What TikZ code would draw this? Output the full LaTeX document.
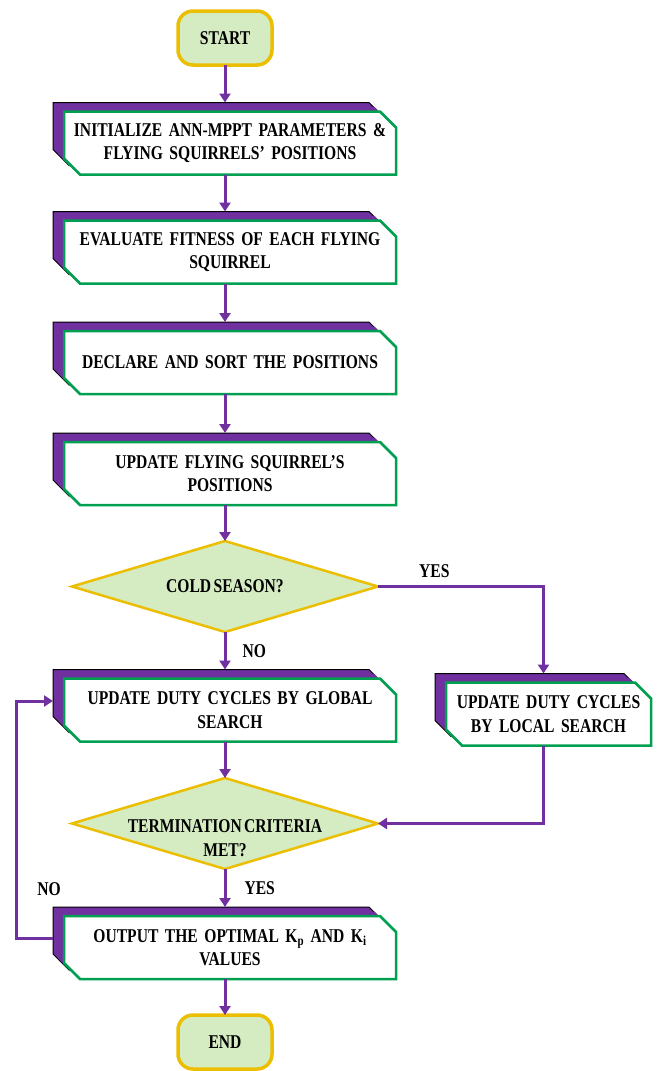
\documentclass[tikz,border=0pt]{standalone}
\usepackage{fontspec}
\usepackage{xcolor}
\usepackage{tikz}
\usetikzlibrary{shapes.geometric, shapes.misc, arrows.meta, positioning, shadows}

\newfontfamily\flowfont[FakeStretch=0.8, WordSpace=0.6]{Liberation Serif}

\definecolor{flowpurple}{RGB}{112,48,160}
\definecolor{flowgreen}{RGB}{0,160,80}
\definecolor{palegreen}{RGB}{213,236,194}
\definecolor{flowgold}{RGB}{236,190,0}

\begin{document}
\begin{tikzpicture}[
		x=1pt, y=1pt,
		% Defining consistent styles
		termbox/.style={
				rectangle,
				rounded corners=15pt,
				draw=flowgold,
				line width=3.5pt,
				fill=palegreen,
				outer sep=0pt,
				minimum width=94pt,
				minimum height=54pt,
				font=\flowfont\fontsize{19.5}{23.5}\selectfont\bfseries
			},
		stepbox/.style={
				chamfered rectangle,
				chamfered rectangle corners={north east, south west},
				chamfered rectangle xsep=8pt,
				chamfered rectangle ysep=8pt,
				draw=flowgreen,
				line width=2.5pt,
				fill=white,
				text width=316pt,
				align=center,
				minimum width=332pt,
				minimum height=63pt,
				inner xsep=0pt,
				inner ysep=2pt,
				outer sep=0pt,
				font=\flowfont\fontsize{19.5}{23.5}\selectfont\bfseries,
				copy shadow={shadow xshift=-11pt, shadow yshift=9pt, opacity=1,
						fill=flowpurple, draw=black, line width=1pt},
				copy shadow={shadow xshift=-5.5pt, shadow yshift=4.5pt, opacity=1,
						fill=flowpurple, draw=none}
			},
		decision/.style={
				diamond,
				aspect=3.36,
				draw=flowgold,
				line width=2.5pt,
				fill=palegreen,
				minimum width=306pt,
				minimum height=91pt,
				inner xsep=0pt,
				inner ysep=-20pt,
				outer sep=0pt,
				align=center,
				font=\flowfont\fontsize{19.5}{23.5}\selectfont\bfseries
			},
		lbl/.style={
				inner sep=1pt,
				font=\flowfont\fontsize{19.5}{23.5}\selectfont\bfseries
			},
		% Defining arrow styles
		arrow/.style={
				-{Triangle[length=9pt,width=11pt]},
				line width=3pt,
				draw=flowpurple
			}
		]

		\useasboundingbox (0,0) rectangle (659,-1071);

		% Start
		\node[termbox] (start) at (225,-38) {START};

		% Main column of steps
		\node[stepbox, below=46.5pt of start, xshift=5pt] (init) {
				INITIALIZE ANN-MPPT PARAMETERS \& \\
				FLYING SQUIRRELS’ POSITIONS
			};

		\node[stepbox, below=46pt of init] (eval) {
				EVALUATE FITNESS OF EACH FLYING \\
				SQUIRREL
			};

		\node[stepbox, below=47.5pt of eval] (declare) {
				DECLARE AND SORT THE POSITIONS
			};

		\node[stepbox, below=48pt of declare] (update) {
				UPDATE FLYING SQUIRREL’S \\
				POSITIONS
			};

		% Season check
		\node[decision, below=36pt of update, xshift=-5pt] (cold) {COLD SEASON?};

		\node[stepbox, below=46.5pt of cold, xshift=5pt] (global) {
				UPDATE DUTY CYCLES BY GLOBAL \\
				SEARCH
			};

		\node[stepbox, text width=189pt, minimum width=205pt,
			right=50pt of global, yshift=-4pt] (local) {
				UPDATE DUTY CYCLES \\
				BY LOCAL SEARCH
			};

		% Termination check
		\node[decision, below=36.5pt of global, xshift=-5pt] (term) {
				\rule{0pt}{19pt} \\
				TERMINATION CRITERIA \\
				MET?
			};

		\node[stepbox, below=47pt of term, xshift=5pt] (output) {
				OUTPUT THE OPTIMAL K\textsubscript{p} AND K\textsubscript{i} \\
				VALUES
			};

		\node[termbox, below=36pt of output, xshift=-5pt] (end) {END};

		% Drawing main flow arrows
		\draw[arrow] (start.south) -- ([xshift=-5pt, yshift=9pt]init.north);
		\draw[arrow] ([xshift=-5pt]init.south) -- ([xshift=-5pt, yshift=9pt]eval.north);
		\draw[arrow] ([xshift=-5pt]eval.south) -- ([xshift=-5pt, yshift=9pt]declare.north);
		\draw[arrow] ([xshift=-5pt]declare.south) -- ([xshift=-5pt, yshift=9pt]update.north);
		\draw[arrow] ([xshift=-5pt]update.south) -- (cold.north);
		\draw[arrow] (cold.south) -- node[lbl, right=15pt] (no1) {NO} ([xshift=-5pt, yshift=9pt]global.north);
		\draw[arrow] ([xshift=-5pt]global.south) -- (term.north);
		\draw[arrow] (term.south) -- node[lbl, right=17pt] (yes2) {YES} ([xshift=-5pt, yshift=9pt]output.north);
		\draw[arrow] ([xshift=-5pt]output.south) -- (end.north);

		% Drawing local search branch
		\draw[arrow] (cold.east) -| node[lbl, pos=0.17, above=6pt] (yes1) {YES}
			([xshift=-5pt, yshift=9pt]local.north);
		\draw[arrow] ([xshift=-5pt]local.south) |- (term.east);

		% Drawing the loop back
		\draw[arrow] ([xshift=-11pt, yshift=9pt]output.west) -- ++(-37pt,0)
			|- ([xshift=-11pt, yshift=9pt]global.west);
		\node[lbl, above=19pt of output.north west, xshift=-15pt] (no2) {NO};

	\end{tikzpicture}
\end{document}
